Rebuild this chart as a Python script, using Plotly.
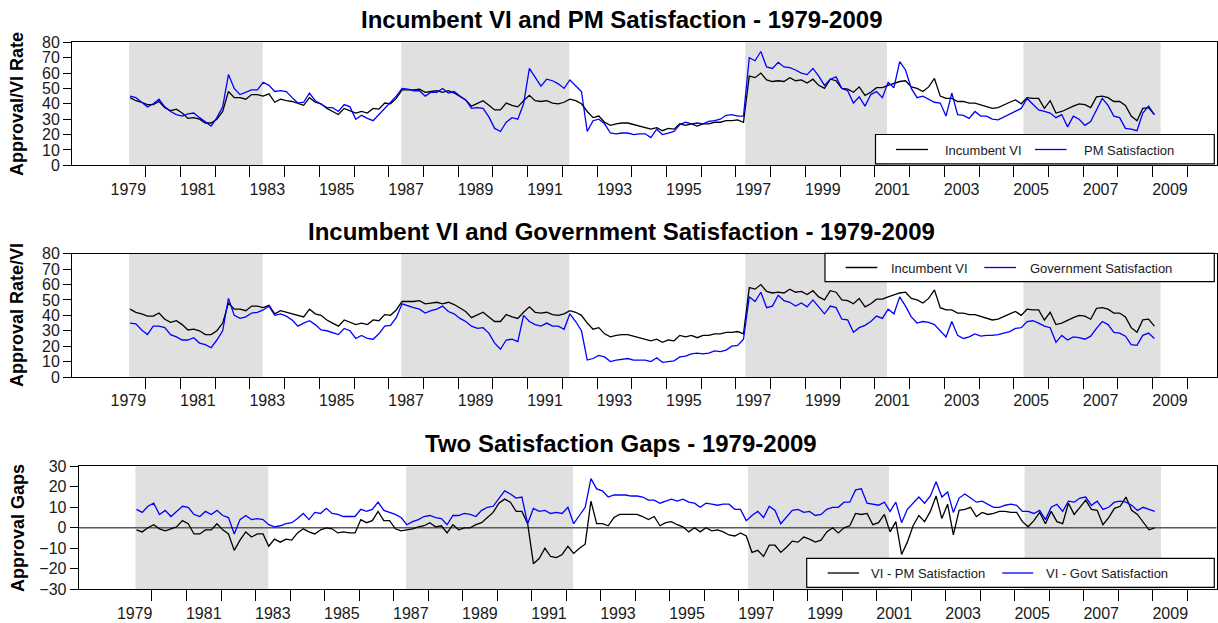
import plotly.graph_objects as go

# ---------------- data (bi-monthly readings, starting mid-1979) ----------------
start_year = 1979.55
step_years = 1 / 6

incumbent_vi = [
    44, 42, 41,
    39.5, 39.5, 41.5, 37.5, 35.5, 36.5,
    34, 30.5, 31, 30, 27.5, 27.5,
    30, 35, 48, 44, 44, 43,
    46, 46, 45, 46.5, 41, 43,
    42, 41.5, 40, 39, 44, 41,
    40, 37, 35, 33, 37, 35.5,
    34, 35, 34, 37, 36.5, 40.5,
    40, 43.5, 49, 49, 49, 49.5,
    47.5, 48, 48.5, 47.5, 48.5, 47,
    45, 42.5, 38.5, 40, 42, 39,
    36, 36, 40.5, 39, 38, 42,
    45.5, 42, 41.5, 42, 40.5, 40,
    41, 43, 42, 40, 35, 31,
    32, 28, 26, 27, 27.5, 27.5,
    26.5, 26, 24.5, 23.5, 24.5, 22.5,
    24, 23.5, 27, 26, 27, 25.5,
    27, 27, 28, 28, 29, 29,
    29.5, 28, 58, 57, 60, 55.5,
    54.5, 55, 54.5, 57, 55, 55.5,
    53.5, 56, 52, 50, 56, 55,
    50, 49.5, 47.5, 51, 45.5, 47.5,
    50.5, 50.5, 52, 53.5, 54.5, 55,
    51, 50, 48, 51, 56.5, 45,
    43.5, 43.5, 41.5, 41.5, 40.5, 40.5,
    39.5, 38.5, 37, 37.5, 39.5, 41,
    42.5, 40, 44, 43.5, 43.5, 37,
    42, 34, 35, 37, 38.5, 40,
    39.5, 37.5, 44.5, 45, 44, 41.5,
    41.5, 39, 32, 29, 37, 37.5,
    33,
]

pm_satisfaction = [
    45, 44, 41,
    38, 40, 43, 38, 35, 33,
    32, 33.5, 34, 31, 28.5, 25.5,
    31, 38, 59, 50, 46, 47.5,
    49, 49, 54, 52, 48, 48.5,
    48, 44, 40.5, 41, 47, 42,
    40, 37.5, 37.5, 35, 39.5, 38,
    30, 32.5, 30.5, 29, 33, 37,
    40.5, 45, 50, 49.5, 48.5, 48.5,
    45, 47.5, 47.5, 50, 47, 48,
    45, 42.5, 37, 37.5, 37, 31.5,
    24, 22, 28, 31, 30, 40,
    63, 57, 51.5, 56, 55, 53,
    50, 55.5, 52, 48, 22, 29,
    30, 27, 21, 20.5, 21, 21,
    20, 20.5, 20.5, 18, 23.5, 20,
    21, 22, 26.5, 28, 27, 27.5,
    27, 28.5, 29, 30, 32.5, 33,
    32, 32, 70, 68, 74, 64,
    63, 67, 64, 63.5, 62, 60,
    59, 63, 58, 52, 56, 57.5,
    50, 48.5, 40.5, 44.5, 38.5, 46,
    48, 44, 54, 50.5, 67.5, 62,
    50, 44, 45, 43, 41, 40.5,
    32, 47, 33, 32.5, 30.5, 35,
    32, 32, 30, 29.5, 31.5, 33.5,
    35, 37, 43.5, 40, 36, 35,
    34, 31, 33, 25, 32, 30,
    26, 28.5, 36, 43.5, 39, 32,
    31, 24, 23.5, 22.5, 34, 38.5,
    33,
]

govt_satisfaction = [
    35, 34.5, 30.5,
    27.5, 33, 33, 32, 27.5, 26,
    24, 24, 25.5, 22, 21, 19,
    24, 30, 51, 40, 38, 39,
    41.5, 42, 43.5, 46, 40, 41,
    39.5, 37, 33, 35, 36.5, 34,
    30.5, 30, 28.5, 27.5, 31.5, 30,
    25, 27, 25, 24.5, 28, 33,
    33.5, 38.5, 47.5, 46, 45, 44,
    41.5, 43, 44, 46, 42.5, 41,
    38, 36, 33, 31.5, 32, 28.5,
    22, 18, 24, 24.5, 23, 40,
    36, 34, 33, 35, 33, 33,
    31, 41, 36, 30, 11, 12,
    14, 13, 10, 11, 11.5, 12,
    11, 11, 11, 10, 12.5, 9.5,
    10, 10.5, 13, 13.5, 15, 15.5,
    15, 15.5, 17, 16.5, 17.5, 20,
    20.5, 24.5, 52, 49, 55, 45,
    46, 53, 49.5, 48.5, 46, 48,
    45.5, 50, 45.5, 41, 46, 45,
    37.5, 37, 29, 32, 33.5, 36,
    39.5, 38, 44, 41, 52, 46,
    39, 35, 36, 35.5, 34, 30,
    26, 36, 27, 25, 26, 28,
    26.5, 27, 27, 27.5, 28.5, 29.5,
    31.5, 32, 36, 36.5, 35, 33,
    32, 22.5, 27, 24, 26, 25.5,
    24.5, 26.5, 31.5, 36, 34, 29,
    28.5, 26.5, 21, 20.5, 27, 28.5,
    25,
]

# Governing periods shaded (decimal years)
shade_periods = [(1979.52, 1983.37), (1987.36, 1992.20), (1997.27, 2001.35), (2005.28, 2009.23)]

label_years = list(range(1979, 2010, 2))
year_ticks = list(range(1980, 2011))

titles = [
    "Incumbent VI and PM Satisfaction - 1979-2009",
    "Incumbent VI and Government Satisfaction - 1979-2009",
    "Two Satisfaction Gaps - 1979-2009",
]
ytitles = ["Approval/VI Rate", "Approval Rate/VI", "Approval Gaps"]
legend_names = [
    ("Incumbent VI", "PM Satisfaction"),
    ("Incumbent VI", "Government Satisfaction"),
    ("VI - PM Satisfaction", "VI - Govt Satisfaction"),
]

# ---------------- derived ----------------
n = len(incumbent_vi)
x = [start_year + i * step_years for i in range(n)]
gap_pm = [v - p for v, p in zip(incumbent_vi, pm_satisfaction)]
gap_govt = [v - g for v, g in zip(incumbent_vi, govt_satisfaction)]

W, H = 1218, 623
FONT = "Liberation Sans, Arial, Helvetica, sans-serif"


def px(v):
    return v / W


def py(v):
    return 1 - v / H


fig = go.Figure()
line_w = 1.3
BLUE = "#0000ff"

fig.add_trace(go.Scatter(x=x, y=incumbent_vi, mode="lines", line=dict(color="black", width=line_w),
                         xaxis="x", yaxis="y", name=legend_names[0][0]))
fig.add_trace(go.Scatter(x=x, y=pm_satisfaction, mode="lines", line=dict(color=BLUE, width=line_w),
                         xaxis="x", yaxis="y", name=legend_names[0][1]))
fig.add_trace(go.Scatter(x=x, y=incumbent_vi, mode="lines", line=dict(color="black", width=line_w),
                         xaxis="x2", yaxis="y2", name=legend_names[1][0]))
fig.add_trace(go.Scatter(x=x, y=govt_satisfaction, mode="lines", line=dict(color=BLUE, width=line_w),
                         xaxis="x2", yaxis="y2", name=legend_names[1][1]))
fig.add_trace(go.Scatter(x=x, y=gap_pm, mode="lines", line=dict(color="black", width=line_w),
                         xaxis="x3", yaxis="y3", name=legend_names[2][0]))
fig.add_trace(go.Scatter(x=x, y=gap_govt, mode="lines", line=dict(color=BLUE, width=line_w),
                         xaxis="x3", yaxis="y3", name=legend_names[2][1]))

# panel geometry in pixels: (left, right, top, bottom)
panels = [(72, 1216.5, 42.3, 165.3), (72, 1216.5, 253.7, 377.0), (78.7, 1216.5, 466.3, 589.3)]
yranges = [(0, 80), (0, 80), (-30, 30)]
ytickvals = [list(range(0, 81, 10)), list(range(0, 81, 10)), list(range(-30, 31, 10))]
xrange = [1977.877, 2010.84]

layout = dict(
    template="none",
    width=W, height=H,
    margin=dict(l=0, r=0, t=0, b=0, pad=0, autoexpand=False),
    paper_bgcolor="white", plot_bgcolor="white",
    showlegend=False,
    font=dict(family=FONT, color="#1a1a1a"),
)

for k, (l, r, t, b) in enumerate(panels):
    sx = "" if k == 0 else str(k + 1)
    layout["xaxis" + sx] = dict(
        domain=[px(l), px(r)], anchor="y" + sx, range=xrange, automargin=False,
        showline=True, linecolor="black", linewidth=1, mirror=True,
        showgrid=False, zeroline=False,
        tickmode="array", tickvals=[yy + 0.5 for yy in label_years],
        ticktext=[str(yy) for yy in label_years],
        ticks="outside", ticklen=9, tickcolor="rgba(0,0,0,0)",
        tickfont=dict(size=16, color="#1a1a1a", family=FONT),
        minor=dict(tickmode="array", tickvals=year_ticks, ticks="outside", ticklen=11,
                   tickcolor="black", tickwidth=1, showgrid=False),
    )
    layout["yaxis" + sx] = dict(
        domain=[py(b), py(t)], anchor="x" + sx, range=list(yranges[k]), automargin=False,
        showline=True, linecolor="black", linewidth=1, mirror=True,
        showgrid=False, zeroline=False,
        tickmode="array", tickvals=ytickvals[k],
        ticks="outside", ticklen=8, tickcolor="black", tickwidth=1,
        tickfont=dict(size=16, color="#1a1a1a", family=FONT),
    )

shapes = []
annotations = []
for k in range(3):
    sx = "" if k == 0 else str(k + 1)
    for (a, bnd) in shade_periods:
        shapes.append(dict(type="rect", xref="x" + sx, yref="y" + sx + " domain",
                           x0=a, x1=bnd, y0=0, y1=1, fillcolor="#e0e0e0",
                           line=dict(width=0), layer="below"))

# zero line in the gaps panel
shapes.append(dict(type="line", xref="x3 domain", yref="y3", x0=0, x1=1, y0=0, y1=0,
                   line=dict(color="#5a5a5a", width=1.5), layer="below"))

# titles
title_y = [20, 231.7, 443.7]
for k in range(3):
    annotations.append(dict(text=titles[k], x=px(621), y=py(title_y[k]), xref="paper", yref="paper",
                            xanchor="center", yanchor="middle", showarrow=False,
                            font=dict(size=24, family=FONT, color="black", weight="bold")))

# y-axis titles
ytitle_pos = [(17, 104), (17, 315), (18, 528)]
for k in range(3):
    annotations.append(dict(text=ytitles[k], x=px(ytitle_pos[k][0]), y=py(ytitle_pos[k][1]),
                            xref="paper", yref="paper", xanchor="center", yanchor="middle",
                            textangle=-90, showarrow=False,
                            font=dict(size=18, family=FONT, color="black", weight="bold")))

# legends (box, line samples, labels)
legend_geo = [
    # box l, r, t, b, line y, sample1 (x0,x1), text1 x, sample2 (x0,x1), text2 x
    (875.5, 1214.3, 134.5, 163.8, 149.5, (896, 928), 942.5, (1035, 1066.5), 1081.5),
    (825.0, 1214.3, 253.3, 281.7, 267.5, (845.7, 877.3), 889, (984.3, 1016), 1027.7),
    (806.7, 1214.3, 558.3, 587.3, 573.0, (827.7, 859), 869, (1002.3, 1033.3), 1044.3),
]
for k, (bl, br, bt, bb, ly, s1, t1, s2, t2) in enumerate(legend_geo):
    shapes.append(dict(type="rect", xref="paper", yref="paper", x0=px(bl), x1=px(br),
                       y0=py(bb), y1=py(bt), fillcolor="white",
                       line=dict(color="black", width=1.2), layer="above"))
    shapes.append(dict(type="line", xref="paper", yref="paper", x0=px(s1[0]), x1=px(s1[1]),
                       y0=py(ly), y1=py(ly), line=dict(color="black", width=1.3), layer="above"))
    shapes.append(dict(type="line", xref="paper", yref="paper", x0=px(s2[0]), x1=px(s2[1]),
                       y0=py(ly), y1=py(ly), line=dict(color=BLUE, width=1.3), layer="above"))
    for tx, txt in ((t1, legend_names[k][0]), (t2, legend_names[k][1])):
        annotations.append(dict(text=txt, x=px(tx), y=py(ly + 0.5), xref="paper", yref="paper",
                                xanchor="left", yanchor="middle", showarrow=False,
                                font=dict(size=13, family=FONT, color="#1a1a1a")))

layout["shapes"] = shapes
layout["annotations"] = annotations
fig.update_layout(**layout)

fig.write_html(
    "out.html",
    config={"displayModeBar": False},
    post_script="document.body.style.margin='0';document.body.style.padding='0';"
                "document.documentElement.style.overflow='hidden';",
)
